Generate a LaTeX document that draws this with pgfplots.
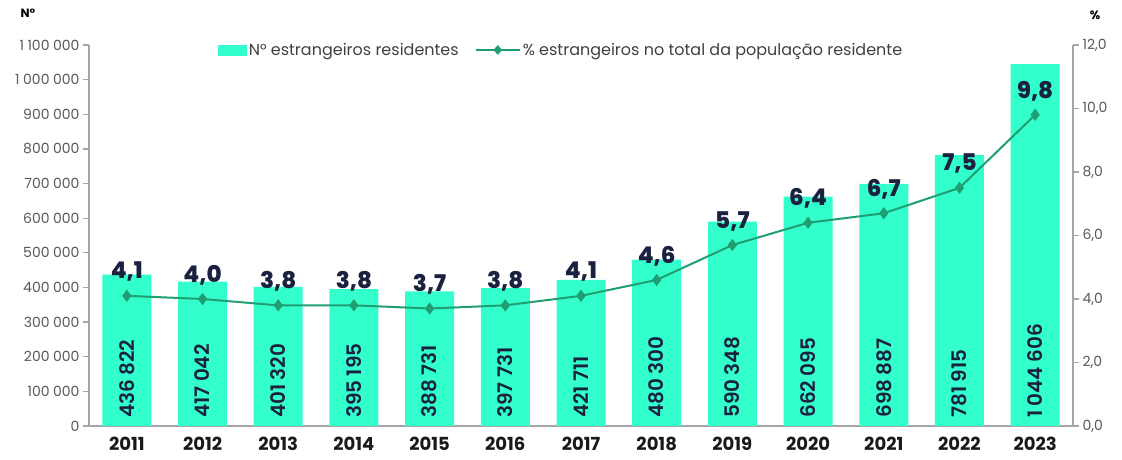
\documentclass[border=0pt]{standalone}
\usepackage{pgfplots}
\pgfplotsset{compat=1.18}
\usepackage{pgfplotstable}
\usepackage{fontspec}
\setmainfont{Poppins}
\newfontfamily\semib{Poppins SemiBold}
\newfontfamily\xbold{Poppins ExtraBold}
\definecolor{barcol}{HTML}{33FFCC}
\definecolor{linecol}{HTML}{1F9E72}
\definecolor{navy}{HTML}{1B2240}
\definecolor{axcol}{HTML}{A6A6A6}
\definecolor{tickcol}{HTML}{595959}
\definecolor{legcol}{HTML}{404040}

% i = category position, n = foreign residents, pct = % of resident population
\pgfplotstableread{
i year n pct
0 2011 436822 4.1
1 2012 417042 4.0
2 2013 401320 3.8
3 2014 395195 3.8
4 2015 388731 3.7
5 2016 397731 3.8
6 2017 421711 4.1
7 2018 480300 4.6
8 2019 590348 5.7
9 2020 662095 6.4
10 2021 698887 6.7
11 2022 781915 7.5
12 2023 1044606 9.8
}\data

\pgfplotsset{
  common/.style={
    at={(0,0)}, anchor=south west,
    scale only axis, width=984pt, height=381pt,
    xmin=-0.5, xmax=12.5,
    tick align=outside, major tick length=6pt, minor tick length=6pt,
    axis line style={axcol, line width=1.5pt},
    /pgf/number format/assume math mode=true,
  },
}

\begin{document}
\begin{tikzpicture}
\useasboundingbox (-89pt,-34pt) rectangle (1033pt,426pt);

% left axis: bars
\begin{axis}[common,
  axis x line*=bottom, axis y line*=left,
  ymin=0, ymax=1100000,
  ytick={0,100000,...,1100000},
  scaled y ticks=false,
  y tick label style={text=tickcol, font=\fontsize{14}{16}\selectfont,
    /pgf/number format/.cd, fixed, precision=0, 1000 sep={\hspace{0.25em}}},
  ytick style={axcol, line width=1.2pt},
  xtick={0,...,12},
  xticklabels={2011,2012,2013,2014,2015,2016,2017,2018,2019,2020,2021,2022,2023},
  xtick style={draw=none},
  minor xtick={-0.5,0.5,...,12.5},
  minor x tick style={axcol, line width=1.2pt},
  x tick label style={font=\fontsize{18}{20}\selectfont\bfseries, text=black!90, yshift=-2pt},
]
\addplot[ybar, bar width=49pt, fill=barcol, draw=none] table[x=i, y=n] {\data};
\addplot[draw=none, mark=none, point meta=explicit,
  nodes near coords={\pgfmathprintnumber[fixed, precision=0, 1000 sep={\hspace{0.22em}}]{\pgfplotspointmeta}},
  nodes near coords style={rotate=90, anchor=west, inner sep=0pt, xshift=8pt,
    text=navy, font=\fontsize{20}{22}\selectfont\semib},
] table[x=i, y expr=0, meta=n] {\data};
\end{axis}

% right axis: percentage line
\begin{axis}[common,
  axis x line=none, axis y line*=right,
  ymin=0, ymax=12,
  ytick={0,2,...,12},
  y tick label style={text=tickcol, font=\fontsize{14}{16}\selectfont,
    /pgf/number format/.cd, fixed, fixed zerofill, precision=1, use comma},
  ytick style={axcol, line width=1.2pt},
  legend style={at={(0.48,0.987)}, anchor=center, draw=none, fill=none,
    font=\fontsize{16}{18}\selectfont, text=legcol,
    /tikz/every even column/.append style={column sep=14pt}},
  legend columns=2,
]
\addlegendimage{legend image code/.code={\fill[barcol] (0pt,-5pt) rectangle (28pt,5pt);}}
\addlegendentry{N° estrangeiros residentes}
\addlegendimage{legend image code/.code={
  \draw[linecol, line width=2pt] (0pt,0pt) -- (44pt,0pt);
  \fill[linecol] (22pt,-4.5pt) -- (26pt,0pt) -- (22pt,4.5pt) -- (18pt,0pt) -- cycle;}}
\addlegendentry{\% estrangeiros no total da população residente}
\addplot[linecol, line width=2pt, mark=diamond*, mark size=4.5pt,
  mark options={fill=linecol, solid},
  point meta=explicit,
  nodes near coords={\pgfmathprintnumber[fixed, fixed zerofill, precision=1, use comma]{\pgfplotspointmeta}},
  nodes near coords style={anchor=center, yshift=24pt, text=navy,
    font=\fontsize{23}{25}\selectfont\xbold},
  forget plot,
] table[x=i, y=pct, meta=pct] {\data};
\end{axis}

% unit labels above the two y axes
\node[font=\fontsize{12}{14}\selectfont\bfseries] at (-61pt,413pt) {N°};
\node[font=\fontsize{12}{14}\selectfont\bfseries] at (1006pt,411pt) {\%};
\end{tikzpicture}
\end{document}
